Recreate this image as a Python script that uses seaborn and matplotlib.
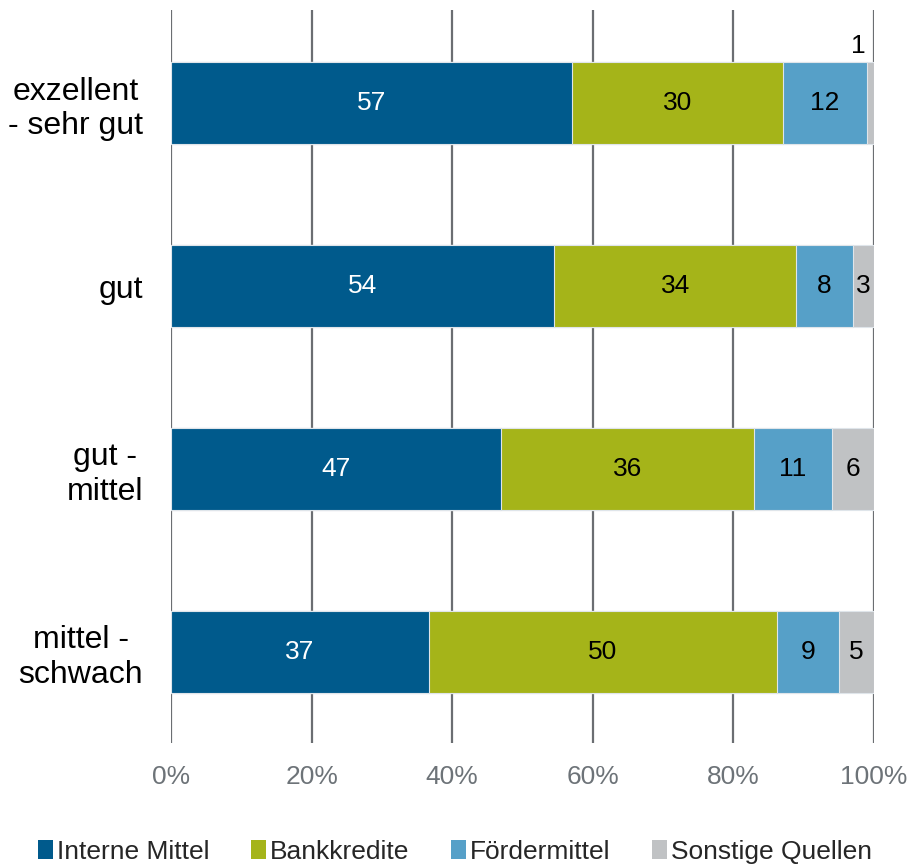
import matplotlib
matplotlib.use("Agg")
import matplotlib.pyplot as plt
from matplotlib.patches import Patch
import numpy as np
import pandas as pd
import seaborn as sns

# Financing sources by rating class (shares in %)
categories = ["exzellent\n- sehr gut", "gut", "gut -\nmittel", "mittel -\nschwach"]
series_names = ["Interne Mittel", "Bankkredite", "Fördermittel", "Sonstige Quellen"]
interne = [57, 54, 47, 37]
bank = [30, 34, 36, 50]
foerder = [12, 8, 11, 9]
sonstige = [1, 3, 6, 5]
tick_values = [0, 20, 40, 60, 80, 100]
tick_labels = ["0%", "20%", "40%", "60%", "80%", "100%"]

colors = ["#005a8c", "#a5b419", "#56a0c8", "#c0c2c4"]
text_colors = ["white", "black", "black", "black"]

sns.set_theme(style="white")
plt.rcParams["font.family"] = ["Liberation Sans", "DejaVu Sans"]

values = np.array([interne, bank, foerder, sonstige], dtype=float)  # series x category
shares = values / values.sum(axis=0) * 100  # stacked to 100 %
cum = np.cumsum(shares, axis=0)

fig = plt.figure(figsize=(9.1, 8.65), dpi=100)
ax = fig.add_axes([0.1879, 0.141, 0.7725, 0.8474])

# Draw cumulative bars from the outermost segment inwards
for i in range(len(series_names) - 1, -1, -1):
    df = pd.DataFrame({"category": categories, "end": cum[i]})
    sns.barplot(data=df, x="end", y="category", orient="h", color=colors[i],
                width=0.45, saturation=1, edgecolor="#dfe5ea", linewidth=0.8,
                ax=ax, zorder=3)

# Segment value labels
for i in range(len(series_names)):
    for j in range(len(categories)):
        start = cum[i - 1][j] if i > 0 else 0.0
        end = cum[i][j]
        v = values[i][j]
        label = f"{v:.0f}"
        if shares[i][j] < 2:
            ax.annotate(label, xy=(end, j - 0.225), xytext=(-6, 3),
                        textcoords="offset points", ha="right", va="bottom",
                        fontsize=19, color="black", zorder=5)
        else:
            ax.text((start + end) / 2, j, label, ha="center", va="center",
                    fontsize=19, color=text_colors[i], zorder=5)

ax.set_xlim(0, 100)
ax.set_ylim(3.5, -0.51)
ax.set_xticks(tick_values)
ax.set_xticklabels(tick_labels, fontsize=19, color="#6d7378")
ax.set_xlabel("")
ax.set_ylabel("")
for lbl in ax.get_yticklabels():
    lbl.set_fontsize(23)
    lbl.set_color("black")
    lbl.set_multialignment("center")
    lbl.set_linespacing(1.2)
ax.tick_params(axis="y", length=0, pad=20)
ax.tick_params(axis="x", length=0, pad=16)

ax.grid(False)
for x in tick_values:
    ax.axvline(x, color="#6b6e72", linewidth=1.6, zorder=1)
for s in ax.spines.values():
    s.set_visible(False)

handles = [Patch(facecolor=c, edgecolor="none") for c in colors]
fig.legend(handles, series_names, loc="lower center", bbox_to_anchor=(0.5, -0.026),
           ncol=4, frameon=False, fontsize=19, handlelength=0.55, handleheight=0.7,
           handletextpad=0.15, columnspacing=1.6)

fig.savefig("out.png", dpi=100)
